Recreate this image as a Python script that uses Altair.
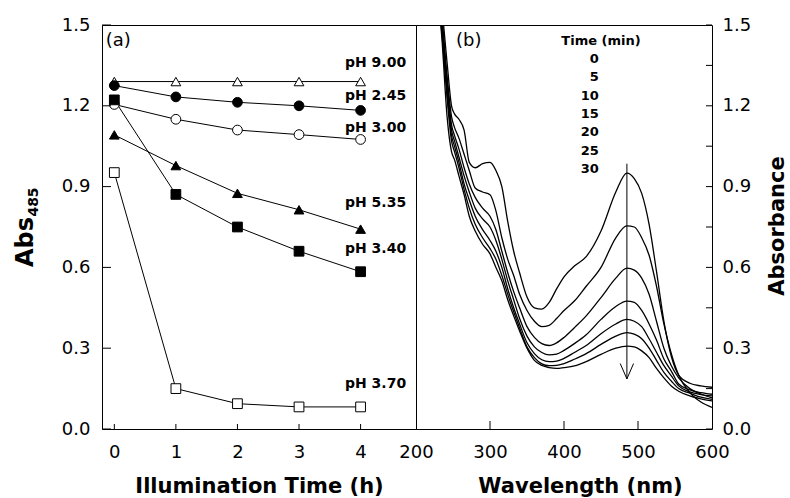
import altair as alt
import pandas as pd

FONT = "DejaVu Sans"

# ---------------- panel (a) data ----------------
hours = [0, 1, 2, 3, 4]
ph_names = ["pH 9.00", "pH 2.45", "pH 3.00", "pH 5.35", "pH 3.40", "pH 3.70"]
abs_ph900 = [1.29, 1.29, 1.29, 1.29, 1.29]
abs_ph245 = [1.275, 1.233, 1.213, 1.200, 1.183]
abs_ph300 = [1.205, 1.150, 1.110, 1.093, 1.075]
abs_ph535 = [1.092, 0.978, 0.875, 0.814, 0.742]
abs_ph340 = [1.222, 0.871, 0.750, 0.660, 0.584]
abs_ph370 = [0.952, 0.150, 0.094, 0.082, 0.082]
ph_shapes = ["triangle-up", "circle", "circle", "triangle-up", "square", "square"]
ph_fills = ["white", "black", "white", "black", "black", "white"]
ph_label_y = [1.359, 1.236, 1.119, 0.838, 0.668, 0.166]
ph_label_x = 4.74
y_ticks = [0.0, 0.3, 0.6, 0.9, 1.2, 1.5]

# ---------------- panel (b) data ----------------
wavelength = [226, 235, 242, 248, 252, 258, 265, 272, 280, 290, 300, 308, 316, 324,
              332, 340, 350, 360, 370, 380, 390, 400, 414, 430, 450, 470, 485, 495,
              505, 515, 525, 535, 545, 555, 570, 585, 600]
times = ["0", "5", "10", "15", "20", "25", "30"]
a_t0 = [1.70, 1.56, 1.36, 1.20, 1.17, 1.15, 1.11, 0.99, 0.97, 0.985, 0.99, 0.96, 0.90, 0.77,
        0.66, 0.58, 0.49, 0.45, 0.445, 0.47, 0.52, 0.565, 0.605, 0.64, 0.735, 0.88, 0.95, 0.93,
        0.875, 0.76, 0.585, 0.40, 0.27, 0.20, 0.17, 0.16, 0.155]
a_t5 = [1.70, 1.53, 1.31, 1.16, 1.12, 1.08, 1.02, 0.96, 0.895, 0.88, 0.87, 0.81, 0.71, 0.63,
        0.57, 0.50, 0.44, 0.40, 0.38, 0.385, 0.41, 0.44, 0.475, 0.53, 0.60, 0.71, 0.754, 0.75,
        0.71, 0.645, 0.53, 0.39, 0.28, 0.20, 0.135, 0.10, 0.08]
a_t10 = [1.70, 1.51, 1.29, 1.13, 1.09, 1.04, 0.97, 0.91, 0.86, 0.82, 0.79, 0.74, 0.66, 0.58,
         0.51, 0.45, 0.38, 0.34, 0.317, 0.31, 0.32, 0.34, 0.376, 0.42, 0.488, 0.56, 0.597, 0.59,
         0.56, 0.50, 0.40, 0.30, 0.235, 0.19, 0.15, 0.13, 0.116]
a_t15 = [1.70, 1.49, 1.27, 1.11, 1.07, 1.01, 0.94, 0.88, 0.82, 0.78, 0.75, 0.70, 0.63, 0.55,
         0.48, 0.41, 0.345, 0.305, 0.284, 0.275, 0.278, 0.292, 0.317, 0.35, 0.407, 0.455, 0.475, 0.47,
         0.44, 0.39, 0.33, 0.26, 0.215, 0.167, 0.145, 0.135, 0.129]
a_t20 = [1.70, 1.48, 1.25, 1.09, 1.05, 0.99, 0.91, 0.85, 0.79, 0.74, 0.70, 0.66, 0.60, 0.52,
         0.45, 0.39, 0.32, 0.28, 0.257, 0.25, 0.252, 0.262, 0.284, 0.31, 0.354, 0.39, 0.407, 0.40,
         0.38, 0.335, 0.285, 0.235, 0.197, 0.16, 0.138, 0.128, 0.123]
a_t25 = [1.70, 1.47, 1.23, 1.07, 1.03, 0.97, 0.89, 0.82, 0.76, 0.71, 0.67, 0.63, 0.57, 0.50,
         0.435, 0.375, 0.305, 0.265, 0.242, 0.235, 0.236, 0.243, 0.259, 0.28, 0.314, 0.345, 0.358, 0.352,
         0.335, 0.30, 0.255, 0.21, 0.178, 0.15, 0.133, 0.118, 0.11]
a_t30 = [1.70, 1.45, 1.16, 1.03, 1.00, 0.94, 0.87, 0.79, 0.735, 0.686, 0.65, 0.60, 0.55, 0.48,
         0.42, 0.364, 0.30, 0.255, 0.236, 0.228, 0.225, 0.228, 0.234, 0.25, 0.277, 0.30, 0.308, 0.305,
         0.29, 0.265, 0.225, 0.19, 0.16, 0.14, 0.123, 0.112, 0.104]
legend_x = 447
legend_y = [1.374, 1.307, 1.236, 1.170, 1.103, 1.032, 0.965]
arrow_wl = [485, 485]
arrow_a = [0.985, 0.186]
head_wl = [476, 485, 494]
head_a = [0.243, 0.186, 0.243]
yb_ticks = [0.0, 0.15, 0.3, 0.45, 0.6, 0.75, 0.9, 1.05, 1.2, 1.35, 1.5]
xb_ticks = [300, 400, 500]

W_A, W_B, H = 314, 296, 404

# ---------------- panel (a) ----------------
rows = []
for name, vals in zip(ph_names, [abs_ph900, abs_ph245, abs_ph300, abs_ph535, abs_ph340, abs_ph370]):
    for h, v in zip(hours, vals):
        rows.append({"series": name, "hour": h, "a": v})
dfa = pd.DataFrame(rows)

xa_scale = alt.Scale(domain=[-0.2, 4.9], nice=False, zero=False)
y_scale = alt.Scale(domain=[0, 1.5], nice=False, zero=False)

xa = alt.X("hour:Q", scale=xa_scale,
           axis=alt.Axis(values=hours, format="d", title="Illumination Time (h)",
                         labelPadding=14, titlePadding=14))
ya = alt.Y("a:Q", scale=y_scale,
           axis=alt.Axis(values=y_ticks, format=".1f", title=None, orient="left",
                         labelPadding=12))

lines_a = alt.Chart(dfa).mark_line(color="black", strokeWidth=1).encode(
    x=xa, y=ya, detail="series:N")
pts_a = alt.Chart(dfa).mark_point(filled=True, stroke="black", strokeWidth=1,
                                  size=95, opacity=1).encode(
    x="hour:Q", y="a:Q",
    shape=alt.Shape("series:N", scale=alt.Scale(domain=ph_names, range=ph_shapes), legend=None),
    fill=alt.Fill("series:N", scale=alt.Scale(domain=ph_names, range=ph_fills), legend=None),
)
lab_df = pd.DataFrame({"text": ph_names, "x": [ph_label_x] * 6, "y": ph_label_y})
labels_a = alt.Chart(lab_df).mark_text(align="right", baseline="middle", font=FONT,
                                       fontWeight="bold", fontSize=14, color="black").encode(
    x="x:Q", y="y:Q", text="text:N")
panel_a_lab = alt.Chart(pd.DataFrame({"x": [-0.14], "y": [1.44], "t": ["(a)"]})).mark_text(
    align="left", baseline="middle", font=FONT, fontSize=18, color="black").encode(
    x="x:Q", y="y:Q", text="t:N")
yt_a = alt.Chart(pd.DataFrame({"v": y_ticks})).mark_rule(color="black", strokeWidth=1).encode(
    y="v:Q", x=alt.value(0), x2=alt.value(9))
xt_a = alt.Chart(pd.DataFrame({"v": hours})).mark_rule(color="black", strokeWidth=1).encode(
    x="v:Q", y=alt.value(H), y2=alt.value(H - 5))
abs_title = alt.Chart(pd.DataFrame({"t": ["Abs"]})).mark_text(
    angle=270, align="center", baseline="middle", font=FONT, fontWeight="bold",
    fontSize=24, color="black").encode(x=alt.value(-76), y=alt.value(217), text="t:N")
abs_sub = alt.Chart(pd.DataFrame({"t": ["485"]})).mark_text(
    angle=270, align="center", baseline="middle", font=FONT, fontWeight="bold",
    fontSize=14, color="black").encode(x=alt.value(-68), y=alt.value(177), text="t:N")

panel_a = alt.layer(lines_a, pts_a, labels_a, panel_a_lab, yt_a, xt_a, abs_title, abs_sub).properties(
    width=W_A, height=H)

# ---------------- panel (b) ----------------
rows = []
for t, vals in zip(times, [a_t0, a_t5, a_t10, a_t15, a_t20, a_t25, a_t30]):
    for w, v in zip(wavelength, vals):
        rows.append({"time": t, "wl": w, "a": v})
dfb = pd.DataFrame(rows)

xb_scale = alt.Scale(domain=[200, 600], nice=False, zero=False)
xb = alt.X("wl:Q", scale=xb_scale,
           axis=alt.Axis(values=[200, 300, 400, 500, 600], format="d", title="Wavelength (nm)",
                         labelPadding=14, titlePadding=14, titleX=164))
yb = alt.Y("a:Q", scale=y_scale,
           axis=alt.Axis(values=y_ticks, format=".1f", title=None, orient="right",
                         labelPadding=10))

spectra = alt.Chart(dfb).mark_line(color="black", strokeWidth=1.3, interpolate="monotone",
                                   clip=True).encode(x=xb, y=yb, detail="time:N")
leg_df = pd.DataFrame({"t": times, "x": [legend_x] * 7, "y": legend_y})
leg = alt.Chart(leg_df).mark_text(align="right", baseline="middle", font=FONT,
                                  fontWeight="bold", fontSize=13, color="black").encode(
    x="x:Q", y="y:Q", text="t:N")
leg_head = alt.Chart(pd.DataFrame({"x": [450], "y": [1.44], "t": ["Time (min)"]})).mark_text(
    align="center", baseline="middle", font=FONT, fontWeight="bold", fontSize=13,
    color="black").encode(x="x:Q", y="y:Q", text="t:N")
panel_b_lab = alt.Chart(pd.DataFrame({"x": [254], "y": [1.44], "t": ["(b)"]})).mark_text(
    align="left", baseline="middle", font=FONT, fontSize=18, color="black").encode(
    x="x:Q", y="y:Q", text="t:N")
shaft = alt.Chart(pd.DataFrame({"wl": arrow_wl, "a": arrow_a})).mark_line(
    color="black", strokeWidth=1).encode(x="wl:Q", y="a:Q")
head = alt.Chart(pd.DataFrame({"wl": head_wl, "a": head_a})).mark_line(
    color="black", strokeWidth=1).encode(x="wl:Q", y="a:Q")
yt_b = alt.Chart(pd.DataFrame({"v": yb_ticks})).mark_rule(color="black", strokeWidth=1).encode(
    y="v:Q", x=alt.value(W_B), x2=alt.value(W_B - 6))
xt_b = alt.Chart(pd.DataFrame({"v": xb_ticks})).mark_rule(color="black", strokeWidth=1).encode(
    x="v:Q", y=alt.value(H), y2=alt.value(H - 8))
absb_title = alt.Chart(pd.DataFrame({"t": ["Absorbance"]})).mark_text(
    angle=270, align="center", baseline="middle", font=FONT, fontWeight="bold",
    fontSize=21, color="black").encode(x=alt.value(362), y=alt.value(201), text="t:N")

panel_b = alt.layer(spectra, shaft, head, leg, leg_head, panel_b_lab, yt_b, xt_b,
                    absb_title).properties(width=W_B, height=H)

chart = alt.hconcat(panel_a, panel_b, spacing=0, bounds="flush").properties(
    padding={"left": 13, "top": 15, "right": 0, "bottom": 0}
).configure_view(stroke="black", strokeWidth=1).configure_axis(
    domain=False, ticks=False, tickSize=0, grid=False, labelFont=FONT, labelFontSize=18,
    labelColor="black", labelFlush=False, titleFont=FONT, titleFontSize=21,
    titleFontWeight="bold", titleColor="black", labelOverlap=False
)

chart.save("out.html", embed_options={"renderer": "svg", "actions": False})
